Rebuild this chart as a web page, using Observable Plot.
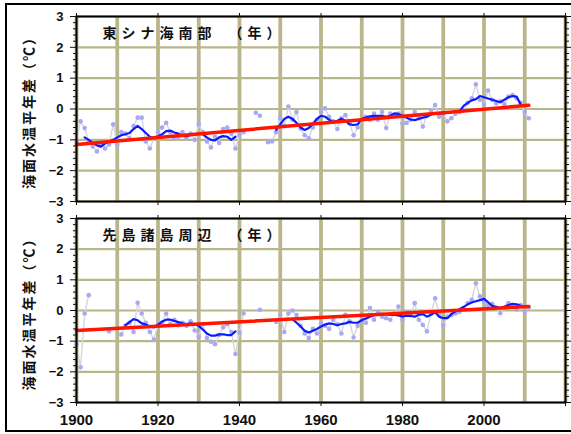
<!DOCTYPE html>
<html><head><meta charset="utf-8">
<script src="https://cdn.jsdelivr.net/npm/d3@7"></script>
<script src="https://cdn.jsdelivr.net/npm/@observablehq/plot@0.6"></script>
<style>
body{margin:0;background:#fff;width:571px;height:434px;overflow:hidden;position:relative;font-family:"Liberation Sans",Arial,sans-serif;}
#frame{position:absolute;left:5px;top:3px;width:620px;height:429px;box-sizing:border-box;border:2px solid #000;z-index:5;pointer-events:none;}
.panel{position:absolute;left:0;}
</style></head><body>
<div id="p1" class="panel" style="top:0"></div>
<div id="p2" class="panel" style="top:208px"></div>
<div id="frame"></div>
<script>
// ---- data ----
const annualStart = 1900;
const eastAnnual = [
 -1.05,-0.40,-0.62,-1.05,-1.22,-1.38,-1.15,-1.28,-1.15,-0.50,
 -1.15,-0.75,-0.80,-0.95,-0.55,-0.28,-0.28,-1.05,-1.28,-0.95,
 -0.75,-0.60,-0.45,-0.75,-0.95,-0.90,-0.75,-0.95,-0.80,-1.00,
 -0.50,-0.75,-1.05,-1.25,-0.90,-1.10,-0.65,-0.60,-0.80,-1.28,
 -0.85,-0.75,null,null,-0.12,-0.22,null,-1.08,-1.05,-0.75,
 -0.30,-0.55,0.08,-0.35,-0.10,-0.63,-0.85,-0.95,-0.60,-0.35,
 -0.10,0.02,-0.25,-0.40,-0.65,-0.30,-0.20,-0.45,-0.85,-0.60,
 -0.35,-0.25,-0.35,-0.15,-0.35,-0.10,-0.62,-0.15,-0.20,-0.15,
 -0.47,-0.45,-0.35,-0.10,-0.25,-0.57,-0.20,-0.05,0.13,-0.25,
 -0.15,-0.40,-0.30,-0.15,-0.10,-0.05,0.20,0.35,0.80,0.30,
 0.15,0.60,0.30,0.18,0.25,0.15,0.40,0.45,0.35,0.20,
 -0.10,-0.30
];
const eastSmoothStart = 1902;
const eastSmooth = [
 -0.92,-1.00,-1.10,-1.18,-1.22,-1.12,-1.05,-1.00,
 -0.92,-0.85,-0.82,-0.78,-0.65,-0.55,-0.65,-0.78,-0.90,-0.95,
 -0.88,-0.82,-0.72,-0.70,-0.76,-0.80,-0.88,-0.88,-0.84,-0.82,
 -0.80,-0.82,-0.92,-1.00,-1.02,-0.92,-0.88,-0.90,-1.00,-0.90,
 null,null,null,null,null,null,null,null,null,-0.68,
 -0.50,-0.32,-0.25,-0.32,-0.45,-0.60,-0.68,-0.62,-0.48,-0.32,
 -0.22,-0.25,-0.35,-0.42,-0.38,-0.32,-0.38,-0.50,-0.52,-0.50,
 -0.32,-0.28,-0.24,-0.22,-0.22,-0.22,-0.25,-0.22,-0.14,-0.16,
 -0.22,-0.28,-0.34,-0.36,-0.32,-0.28,-0.25,-0.18,-0.14,-0.14,
 -0.14,-0.12,-0.10,-0.09,-0.08,0.10,0.20,0.28,0.32,0.42,
 0.38,0.34,0.30,0.26,0.22,0.30,0.38,0.42,0.40,0.15
];
const sakiAnnual = [
 -1.10,-1.85,-0.10,0.50,null,null,null,null,-0.68,null,
 null,-0.78,-0.50,-0.40,-0.70,0.25,-0.10,-0.40,-0.70,-0.95,
 -0.45,-0.40,-0.10,-0.45,-0.30,-0.48,-0.40,-0.50,-0.35,-0.65,
 -0.85,-0.45,-0.90,-1.02,-1.10,-0.80,-0.55,-0.45,-0.70,-1.42,
 -0.72,-0.10,null,null,null,0.02,null,null,null,-0.37,
 -0.15,-0.70,-0.10,0.00,-0.15,-0.50,-0.75,-0.90,-0.60,-0.75,
 -0.42,-0.50,-0.60,-0.30,-0.45,-0.75,-0.14,-0.35,-0.88,-0.50,
 -0.30,-0.40,0.08,-0.30,-0.05,-0.20,-0.25,-0.30,-0.10,0.13,
 -0.30,-0.05,-0.15,0.24,-0.30,-0.47,-0.68,-0.10,0.40,-0.10,
 -0.47,-0.20,-0.15,-0.10,-0.05,0.08,0.24,0.35,0.89,0.46,
 0.30,0.18,0.22,0.08,-0.09,0.10,0.24,0.12,0.03,0.18,
 -0.03,0.10
];
const sakiSmoothStart = 1912;
const sakiSmooth = [
 -0.48,-0.38,-0.28,-0.32,-0.42,-0.46,-0.52,-0.55,
 -0.46,-0.36,-0.30,-0.30,-0.34,-0.38,-0.42,-0.44,-0.42,-0.44,
 -0.50,-0.62,-0.75,-0.82,-0.82,-0.78,-0.78,-0.80,-0.80,-0.68,
 null,null,null,null,null,null,null,null,null,null,null,null,null,
 -0.28,-0.40,-0.52,-0.66,-0.72,-0.66,-0.60,
 -0.52,-0.46,-0.42,-0.44,-0.48,-0.44,-0.42,-0.37,-0.40,-0.40,
 -0.32,-0.26,-0.20,-0.15,-0.12,-0.11,-0.12,-0.14,-0.14,-0.16,
 -0.20,-0.17,-0.18,-0.20,-0.14,-0.12,-0.20,-0.14,-0.06,-0.20,
 -0.25,-0.25,-0.12,-0.03,0.04,0.12,0.20,0.26,0.30,0.34,
 0.38,0.27,0.15,0.12,0.08,0.12,0.18,0.22,0.20,0.15
];
const trendYears = [1900, 2011];
const eastTrend = [-1.15, 0.12];
const sakiTrend = [-0.65, 0.13];

const gridYears = [1900,1910,1920,1930,1940,1950,1960,1970,1980,1990,2000,2010,2020];
const majorYears = [1900,1920,1940,1960,1980,2000,2020];
const labelYears = [1900,1920,1940,1960,1980,2000];
const yTicks = [3,2,1,0,-1,-2,-3];
const yMinor = [-2.8,-2.6,-2.4,-2.2,-1.8,-1.6,-1.4,-1.2,-0.8,-0.6,-0.4,-0.2,0.2,0.4,0.6,0.8,1.2,1.4,1.6,1.8,2.2,2.4,2.6,2.8];
const yTitle = "海面水温平年差（℃）";
const titles = ["東シナ海南部　（年）", "先島諸島周辺　（年）"];

// ---- drawing ----
const GRID = "#bab68b";
const NUM_FONT = '"Liberation Sans", Arial, sans-serif';
const JP_FONT = '"Noto Sans CJK JP", sans-serif';
const rows = (start, vals) => vals.map((v, i) => ({year: start + i, value: v}));
const blank = () => "";

function panel({title, annual, smoothStart, smooth, trend, height, marginTop, marginBottom, xLabels}) {
  const marks = [
    Plot.ruleX(gridYears, {x: d => d, stroke: GRID, strokeWidth: 3.8}),
    Plot.ruleY(yTicks, {y: d => d, stroke: GRID, strokeWidth: 2.2}),
    Plot.line(rows(annualStart, annual), {x: "year", y: "value", stroke: "#d6d6dc", strokeWidth: 1.4}),
    Plot.dot(rows(annualStart, annual), {x: "year", y: "value", r: 2.3, fill: "#a8a8f4"}),
    Plot.line(rows(smoothStart, smooth), {x: "year", y: "value", stroke: "#0a1cff", strokeWidth: 2.2}),
    Plot.line(trendYears.map((y, i) => ({year: y, value: trend[i]})), {x: "year", y: "value", stroke: "#ff1500", strokeWidth: 3.5}),
    Plot.frame({stroke: "#000", strokeWidth: 2}),
    Plot.axisY(yTicks, {anchor: "left", tickSize: 0, tickPadding: 13, fontSize: 13, fontWeight: "bold", label: yTitle, labelArrow: "none", labelAnchor: "center", labelOffset: 52}),
    Plot.axisY(yTicks, {anchor: "left", tickSize: 6, tickFormat: blank, label: null}),
    Plot.axisY(yMinor, {anchor: "left", tickSize: 3, tickFormat: blank, label: null}),
    Plot.axisY(yTicks, {anchor: "right", tickSize: 5, tickFormat: blank, label: null}),
    Plot.axisY(yMinor, {anchor: "right", tickSize: 3, tickFormat: blank, label: null}),
    Plot.axisX(majorYears, {anchor: "top", tickSize: 4, tickFormat: blank, label: null}),
    Plot.axisX(majorYears, {anchor: "bottom", tickSize: 4, tickFormat: blank, label: null}),
    Plot.text([title], {frameAnchor: "top-left", dx: 26, dy: 17, text: d => d, fontSize: 14, fontWeight: "bold", fontFamily: JP_FONT, lineAnchor: "middle", textAnchor: "start", fill: "#111"})
  ];
  if (xLabels) marks.push(Plot.axisX(labelYears, {anchor: "bottom", tickSize: 0, tickPadding: 12, fontSize: 15, fontWeight: "bold", tickFormat: d => String(d), label: null}));
  const svg = Plot.plot({
    width: 571, height,
    marginLeft: 76, marginRight: 6, marginTop, marginBottom,
    style: {background: "transparent", fontFamily: NUM_FONT, color: "#111"},
    x: {domain: [1900, 2020]},
    y: {domain: [-3, 3]},
    marks
  });
  d3.select(svg).selectAll('g[aria-label="text"] text').style("letter-spacing", "5px");
  d3.select(svg).selectAll('[aria-label="y-axis label"]').each(function() {
    const sel = this.tagName.toLowerCase() === "text" ? d3.select(this) : d3.select(this).selectAll("text");
    sel.each(function() {
      this.textContent = this.textContent.replace(/[↑↓←→]/g, "").trim();
    });
    sel.style("font-family", JP_FONT).style("font-size", "14px").style("font-weight", "bold").style("letter-spacing", "2px");
  });
  return svg;
}

document.getElementById("p1").appendChild(panel({
  title: titles[0], annual: eastAnnual, smoothStart: eastSmoothStart, smooth: eastSmooth, trend: eastTrend,
  height: 208, marginTop: 16, marginBottom: 7, xLabels: false
}));
document.getElementById("p2").appendChild(panel({
  title: titles[1], annual: sakiAnnual, smoothStart: sakiSmoothStart, smooth: sakiSmooth, trend: sakiTrend,
  height: 226, marginTop: 10, marginBottom: 32, xLabels: true
}));
</script></body></html>
